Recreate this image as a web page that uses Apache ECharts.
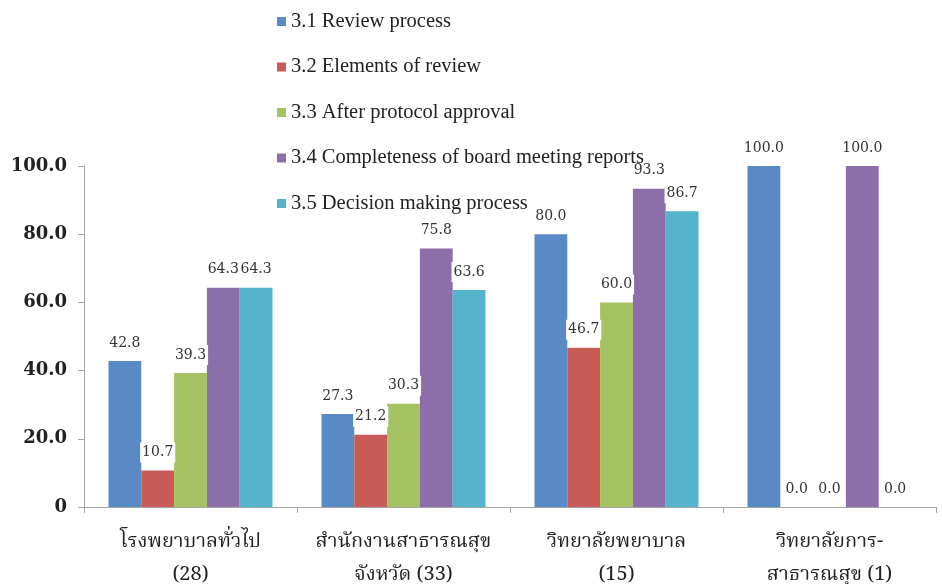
<!DOCTYPE html>
<html>
<head>
<meta charset="utf-8">
<script src="https://cdn.jsdelivr.net/npm/echarts@6/dist/echarts.min.js"></script>
<style>
  html, body { margin: 0; padding: 0; background: #ffffff; }
  #chart { width: 942px; height: 584px; }
</style>
</head>
<body>
<div id="chart"></div>
<script>
// Institution groups (number of respondents in brackets)
const categories = [
  'โรงพยาบาลทั่วไป\n(28)',
  'สำนักงานสาธารณสุข\nจังหวัด (33)',
  'วิทยาลัยพยาบาล\n(15)',
  'วิทยาลัยการ-\nสาธารณสุข (1)'
];

const seriesNames = [
  '3.1 Review process',
  '3.2 Elements of review',
  '3.3 After protocol approval',
  '3.4 Completeness of board meeting reports',
  '3.5 Decision making process'
];

// Percentages per topic
const reviewProcess      = [42.8, 27.3, 80.0, 100.0];
const elementsOfReview   = [10.7, 21.2, 46.7, 0.0];
const afterApproval      = [39.3, 30.3, 60.0, 0.0];
const meetingReports     = [64.3, 75.8, 93.3, 100.0];
const decisionMaking     = [64.3, 63.6, 86.7, 0.0];

const yTicks = [0, 20, 40, 60, 80, 100];

const colors = ['#5a8ac6', '#c75b56', '#a5c263', '#8b6eaa', '#56b3cc'];
const values = [reviewProcess, elementsOfReview, afterApproval, meetingReports, decisionMaking];

const chart = echarts.init(document.getElementById('chart'), null, { renderer: 'canvas' });

const series = values.map((vals, i) => ({
  name: seriesNames[i],
  type: 'bar',
  data: vals,
  barGap: '0%',
  barCategoryGap: '23%',
  itemStyle: { color: colors[i] },
  label: {
    show: true,
    position: 'top',
    distance: 8,
    formatter: p => p.value.toFixed(1),
    fontFamily: '"DejaVu Serif", serif',
    fontSize: 14,
    lineHeight: 16,
    color: '#333333',
    backgroundColor: '#ffffff',
    padding: [2, 2]
  }
}));

chart.setOption({
  backgroundColor: '#ffffff',
  animation: false,
  color: colors,
  legend: {
    orient: 'vertical',
    left: 272,
    top: 6,
    itemWidth: 9,
    itemHeight: 9,
    itemGap: 24.5,
    icon: 'rect',
    textStyle: {
      fontFamily: '"Liberation Serif", "Times New Roman", serif',
      fontSize: 20.5,
      lineHeight: 20,
      color: '#222222'
    },
    data: seriesNames
  },
  grid: {
    left: 84,
    width: 852,
    top: 166,
    height: 341,
    containLabel: false,
    outerBoundsMode: 'none'
  },
  xAxis: {
    type: 'category',
    data: categories,
    axisLine: { lineStyle: { color: '#a6a6a6', width: 1 } },
    axisTick: { show: true, length: 6, lineStyle: { color: '#a6a6a6' } },
    axisLabel: {
      interval: 0,
      margin: 20,
      fontFamily: 'Norasi, "Noto Serif Thai", Garuda, Loma, "Noto Sans Thai", serif',
      fontSize: 20,
      lineHeight: 33,
      color: '#222222'
    }
  },
  yAxis: {
    type: 'value',
    min: 0,
    max: 100,
    interval: 20,
    splitLine: { show: false },
    axisLine: { show: true, lineStyle: { color: '#a6a6a6', width: 1 } },
    axisTick: { show: true, length: 6, lineStyle: { color: '#a6a6a6' } },
    axisLabel: {
      margin: 17,
      formatter: v => (yTicks.indexOf(v) >= 0 && v !== 0 ? v.toFixed(1) : String(v)),
      fontFamily: '"DejaVu Serif", serif',
      fontWeight: 'bold',
      fontSize: 18,
      color: '#222222'
    }
  },
  series: series
});
</script>
</body>
</html>
